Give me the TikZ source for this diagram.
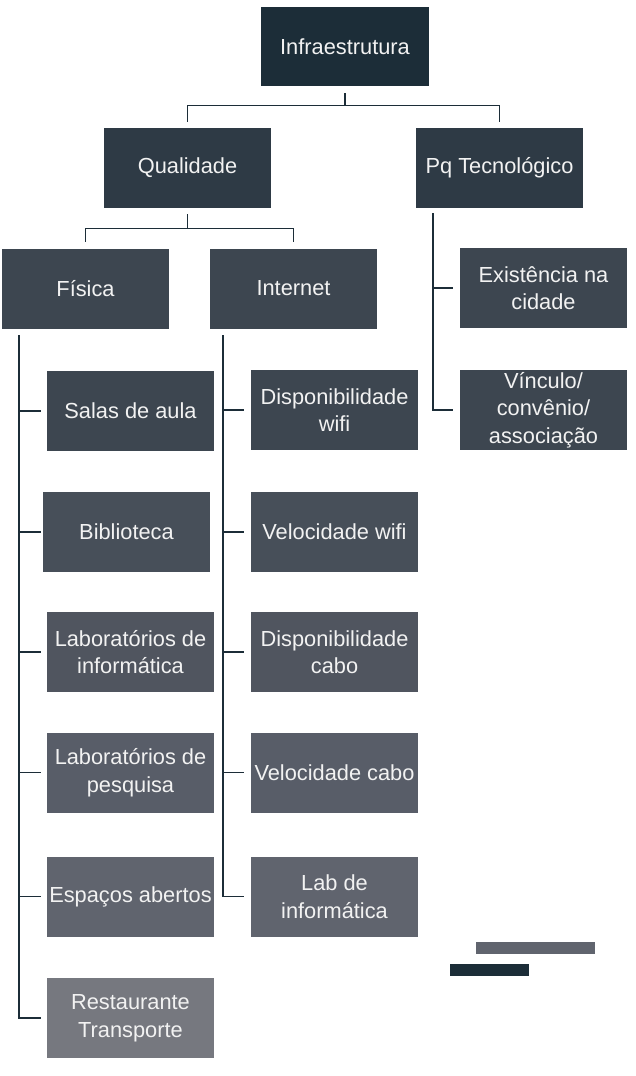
\documentclass[tikz,border=0pt]{standalone}
\usepackage{fontspec}
\setmainfont{Liberation Sans}
\usetikzlibrary{calc}
\definecolor{c0}{HTML}{1C2D38}
\definecolor{c1}{HTML}{2E3A45}
\definecolor{c2}{HTML}{3D4650}
\definecolor{c3}{HTML}{474F59}
\definecolor{c4}{HTML}{50555F}
\definecolor{c5}{HTML}{585D68}
\definecolor{c6}{HTML}{60646E}
\definecolor{c7}{HTML}{76787F}
\definecolor{txt}{HTML}{F2F2F2}
\tikzset{
  box/.style={rectangle, inner sep=0pt, minimum width=167pt, minimum height=80pt,
    text=txt, align=center, font=\fontsize{21.8}{27.5}\selectfont},
  conn/.style={draw=c0, line width=1.3pt},
}
\begin{document}
\begin{tikzpicture}[x=1pt,y=1pt]
\useasboundingbox[fill=white] (0,0) rectangle (636,-1076);
\node[box, fill=c0, minimum width=168pt, minimum height=79pt] (inf) at (345,-46.5) {Infraestrutura};
\node[box, fill=c1] (qual) at (187.5,-168) {Qualidade};
\node[box, fill=c1] (pq) at (499.5,-168) {Pq Tecnológico};
\node[box, fill=c2] (fis) at (85.5,-288.5) {Física};
\node[box, fill=c2] (int) at (293.5,-288.5) {Internet};
\node[box, fill=c2] (exi) at (543.5,-288) {Existência na\\cidade};
\node[box, fill=c2] (vin) at (543.5,-410) {Vínculo/\\convênio/\\associação};
\node[box, fill=c2] (salas) at (130.5,-411) {Salas de aula};
\node[box, fill=c3] (bib) at (126.5,-532) {Biblioteca};
\node[box, fill=c4] (labi) at (130.5,-652) {Laboratórios de\\informática};
\node[box, fill=c5] (labp) at (130.5,-772.5) {Laboratórios de\\pesquisa};
\node[box, fill=c6] (esp) at (130.5,-896.5) {Espaços abertos};
\node[box, fill=c7] (rest) at (130.5,-1018) {Restaurante\\Transporte};
\node[box, fill=c2] (dw) at (334.5,-410) {Disponibilidade\\wifi};
\node[box, fill=c3] (vw) at (334.5,-532) {Velocidade wifi};
\node[box, fill=c4] (dc) at (334.5,-652) {Disponibilidade\\cabo};
\node[box, fill=c5] (vc) at (334.5,-772.5) {Velocidade cabo};
\node[box, fill=c6] (lab) at (334.5,-896.5) {Lab de\\informática};
\node[fill=c6, inner sep=0pt, minimum width=119pt, minimum height=12pt] (bar1) at (535.5,-948) {};
\node[fill=c0, inner sep=0pt, minimum width=79pt, minimum height=12pt] (bar2) at (489.5,-970) {};
% connectors
\coordinate (j0) at ($(inf.south)+(0,-19)$);
\draw[conn] ([yshift=-7pt]inf.south) -- (j0) -| ([yshift=6pt]qual.north);
\draw[conn] (j0) -| ([yshift=6pt]pq.north);
\coordinate (j1) at ($(qual.south)+(0,-20)$);
\draw[conn] ([yshift=-6pt]qual.south) -- (j1) -| ([yshift=6pt]fis.north);
\draw[conn] (j1) -| ([yshift=6pt]int.north);
% Fisica
\coordinate (fx) at (19,-335);
\draw[conn] (fx) |- ([xshift=-6pt]salas.west);
\draw[conn] (fx) |- ([xshift=-2pt]bib.west);
\draw[conn] (fx) |- ([xshift=-6pt]labi.west);
\draw[conn] (fx) |- ([xshift=-6pt]labp.west);
\draw[conn] (fx) |- ([xshift=-6pt]esp.west);
\draw[conn] (fx) |- ([xshift=-6pt]rest.west);
% Internet
\coordinate (ix) at (223,-335);
\draw[conn] (ix) |- ([xshift=-7pt]dw.west);
\draw[conn] (ix) |- ([xshift=-7pt]vw.west);
\draw[conn] (ix) |- ([xshift=-7pt]dc.west);
\draw[conn] (ix) |- ([xshift=-7pt]vc.west);
\draw[conn] (ix) |- ([xshift=-7pt]lab.west);
% Pq
\coordinate (px) at (433,-213);
\draw[conn] (px) |- ([xshift=-7pt]exi.west);
\draw[conn] (px) |- ([xshift=-7pt]vin.west);
\end{tikzpicture}
\end{document}
